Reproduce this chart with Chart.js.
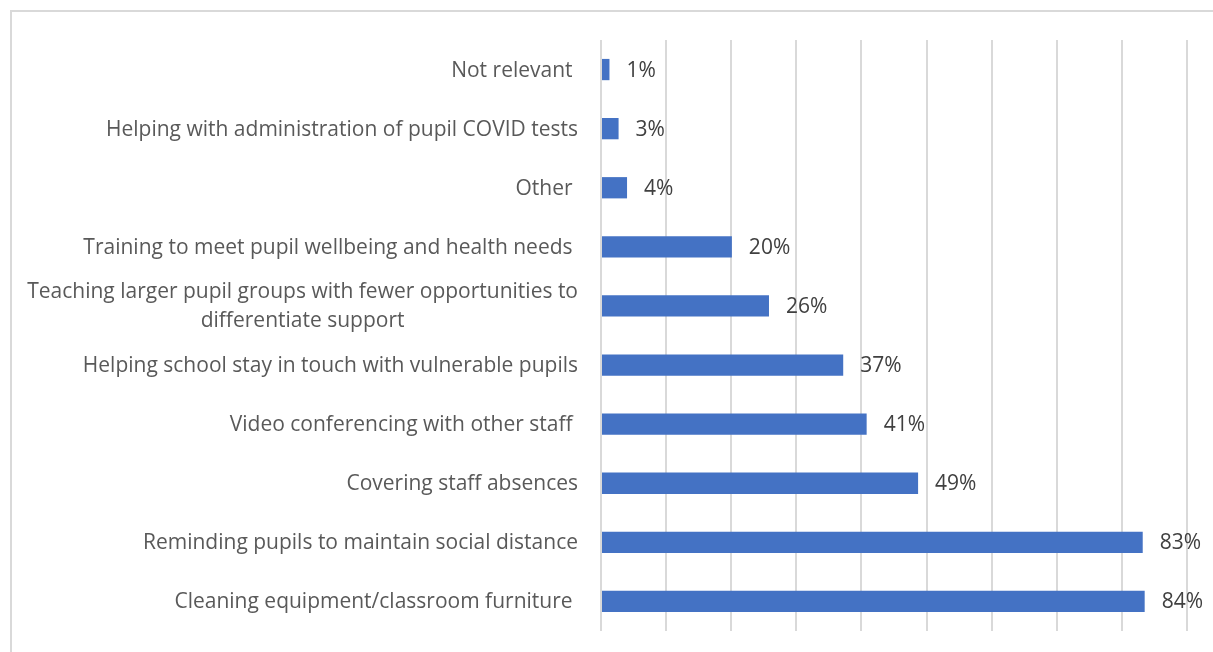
<!DOCTYPE html>
<html>
<head>
<meta charset="utf-8">
<script src="https://cdn.jsdelivr.net/npm/chart.js@4"></script>
<style>
  body { margin: 0; background: #fff; }
  #frame { position: absolute; left: 10px; top: 10px; width: 1220px; height: 660px; border: 2px solid #d9d9d9; box-sizing: border-box; }
  #wrap { position: absolute; left: 0; top: 0; width: 1213px; height: 652px; }
</style>
</head>
<body>
<div id="frame"></div>
<div id="wrap"><canvas id="chart-canvas"></canvas></div>
<script>
// categories, top to bottom
const categories = [
  ['Not relevant '],
  ['Helping with administration of pupil COVID tests'],
  ['Other '],
  ['Training to meet pupil wellbeing and health needs '],
  ['Teaching larger pupil groups with fewer opportunities to', 'differentiate support'],
  ['Helping school stay in touch with vulnerable pupils'],
  ['Video conferencing with other staff '],
  ['Covering staff absences'],
  ['Reminding pupils to maintain social distance'],
  ['Cleaning equipment/classroom furniture ']
];
// bar lengths (%)
const values = [1.3, 2.7, 4.0, 20.1, 25.8, 37.2, 40.8, 48.7, 83.2, 83.5];
// the printed data labels
const valueLabels = ['1%', '3%', '4%', '20%', '26%', '37%', '41%', '49%', '83%', '84%'];
const axisMax = 90;

const labelFont = '21px "Open Sans", "Noto Sans", sans-serif';

// category labels: block right aligned, lines centred (like the original)
const categoryLabelsPlugin = {
  id: 'categoryLabels',
  afterDraw(chart) {
    const ctx = chart.ctx;
    const yScale = chart.scales.y;
    const right = chart.chartArea.left - 23;
    const lineH = 29;
    ctx.save();
    ctx.font = labelFont;
    ctx.fillStyle = '#595959';
    ctx.textBaseline = 'middle';
    ctx.textAlign = 'center';
    categories.forEach((lines, i) => {
      const y = yScale.getPixelForValue(i) + 1;
      const w = Math.max(...lines.map(l => ctx.measureText(l).width));
      const cx = right - w / 2;
      lines.forEach((l, j) => {
        ctx.fillText(l, cx, y + (j - (lines.length - 1) / 2) * lineH);
      });
    });
    ctx.restore();
  }
};

// value labels at the end of each bar
const valueLabelsPlugin = {
  id: 'valueLabels',
  afterDatasetsDraw(chart) {
    const ctx = chart.ctx;
    const meta = chart.getDatasetMeta(0);
    ctx.save();
    ctx.font = labelFont;
    ctx.fillStyle = '#404040';
    ctx.textBaseline = 'middle';
    ctx.textAlign = 'left';
    meta.data.forEach((bar, i) => {
      ctx.fillText(valueLabels[i], bar.x + 17, bar.y + 1);
    });
    ctx.restore();
  }
};

const ctx = document.getElementById('chart-canvas').getContext('2d');
new Chart(ctx, {
  type: 'bar',
  data: {
    labels: categories,
    datasets: [{
      data: values,
      backgroundColor: '#4472C4',
      borderWidth: 0,
      barPercentage: 0.36,
      categoryPercentage: 1.0
    }]
  },
  options: {
    indexAxis: 'y',
    responsive: true,
    maintainAspectRatio: false,
    animation: false,
    layout: { padding: { left: 601, top: 40, right: 26, bottom: 21 } },
    plugins: { legend: { display: false }, tooltip: { enabled: false } },
    scales: {
      x: {
        min: 0,
        max: axisMax,
        ticks: { stepSize: 10, display: false },
        grid: { color: '#d9d9d9', lineWidth: 2, drawTicks: false },
        border: { display: false }
      },
      y: {
        display: false
      }
    }
  },
  plugins: [categoryLabelsPlugin, valueLabelsPlugin]
});
</script>
</body>
</html>
